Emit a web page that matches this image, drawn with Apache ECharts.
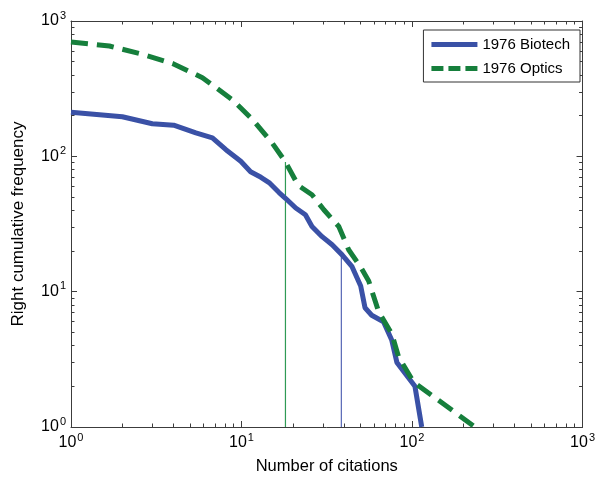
<!DOCTYPE html>
<html>
<head>
<meta charset="utf-8">
<script src="https://cdn.jsdelivr.net/npm/echarts@6/dist/echarts.min.js"></script>
<style>
html,body{margin:0;padding:0;background:#fff;}
#chart{width:598px;height:481px;}
</style>
</head>
<body>
<div id="chart"></div>
<script>
// Data (log-log)
const biotechX = [1, 2, 3, 4, 5.4, 6.75, 8.1, 9.9, 11.3, 13, 14.5, 16.6, 18.1, 20.8, 23.7, 25.9, 29.7, 34, 38.9, 44.5, 50, 53, 58, 68, 76, 81.5, 104, 114];
const biotechY = [212, 196, 174, 170, 149, 137, 112, 92, 77, 70, 64, 54, 49, 41.5, 37, 30.3, 25.5, 22.2, 18.7, 15.3, 11, 7.6, 6.7, 6.0, 4.4, 3.0, 2.0, 1];
const opticsX = [1, 1.68, 2.63, 3.94, 5.9, 8.8, 11.6, 15.1, 18.1, 21.5, 25.9, 30.4, 37.2, 42.5, 49.8, 55.7, 59.6, 63.7, 76, 83.4, 102, 234];
const opticsY = [699, 653, 567, 486, 381, 263, 187, 126, 91, 61, 52, 40.3, 30.3, 20.4, 15.3, 12, 9.2, 7.1, 4.9, 3.3, 2.15, 1];
// vertical marker lines (x position, top y)
const opticsMarkX = [18.1, 18.1];
const opticsMarkY = [1, 91];
const biotechMarkX = [38.5, 38.5];
const biotechMarkY = [1, 18.5];
const seriesNames = ['1976 Biotech', '1976 Optics'];
const xTitle = 'Number of citations';
const yTitle = 'Right cumulative frequency';
// minor tick values (2..9 in each decade)
const minorTicks = [2,3,4,5,6,7,8,9,20,30,40,50,60,70,80,90,200,300,400,500,600,700,800,900];

function zip(a, b) { return a.map((v, i) => [v, b[i]]); }

const FONT = 'Liberation Sans, Arial, Helvetica, sans-serif';
const AX = '#3c3c3c';

function powLabel(v) {
  const e = Math.round(Math.log10(v));
  return '{b|10}{s|' + e + '}';
}
const rich = {
  b: { fontSize: 16, color: '#000', fontFamily: FONT },
  s: { fontSize: 11, color: '#000', fontFamily: FONT, padding: [0, 0, 11, 1] }
};

function mkAxis(pos, isMain, isX, isMinor) {
  const a = {
    type: 'log', logBase: 10, min: 1, max: 1000, position: pos,
    name: isMain ? (isX ? xTitle : yTitle) : '',
    nameLocation: 'middle',
    nameGap: isX ? 31 : 44,
    nameTextStyle: { fontSize: isX ? 16.5 : 17, color: '#000', fontFamily: FONT },
    axisLine: { show: !isMinor, onZero: false, lineStyle: { color: AX, width: 1 } },
    axisTick: { show: true, inside: true, length: isMinor ? 3.5 : 6, lineStyle: { color: AX } },
    minorTick: { show: false },
    axisLabel: isMain ? { show: true, formatter: powLabel, rich: rich, margin: 5 } : { show: false },
    splitLine: { show: false },
    minorSplitLine: { show: false }
  };
  if (isMinor) a.axisTick.customValues = minorTicks;
  return a;
}

const solidIcon = 'path://M0,0L46,0L46,5L0,5Z';
const dashIcon = 'path://M0,0L12,0L12,5L0,5Z M17,0L29,0L29,5L17,5Z M34,0L46,0L46,5L34,5Z';

const chart = echarts.init(document.getElementById('chart'), null, { renderer: 'canvas' });
chart.setOption({
  backgroundColor: '#fff',
  animation: false,
  textStyle: { fontFamily: FONT },
  grid: { left: 71, right: 12, top: 21, bottom: 54, containLabel: false },
  xAxis: [mkAxis('bottom', true, true, false), mkAxis('top', false, true, false),
          mkAxis('bottom', false, true, true), mkAxis('top', false, true, true)],
  yAxis: [mkAxis('left', true, false, false), mkAxis('right', false, false, false),
          mkAxis('left', false, false, true), mkAxis('right', false, false, true)],
  legend: {
    data: [
      { name: seriesNames[0], icon: solidIcon },
      { name: seriesNames[1], icon: dashIcon }
    ],
    orient: 'vertical',
    right: 18, top: 30,
    backgroundColor: '#fff',
    borderColor: '#333', borderWidth: 1,
    padding: [7, 10, 6, 8],
    itemGap: 9,
    itemWidth: 46, itemHeight: 5,
    textStyle: { fontSize: 15, color: '#000', fontFamily: FONT }
  },
  series: [
    {
      name: 'optMark', type: 'line', data: zip(opticsMarkX, opticsMarkY), symbol: 'none',
      lineStyle: { color: '#2f9a55', width: 1.2 }, itemStyle: { color: '#2f9a55' }, z: 1, silent: true
    },
    {
      name: 'bioMark', type: 'line', data: zip(biotechMarkX, biotechMarkY), symbol: 'none',
      lineStyle: { color: '#5566b5', width: 1.2 }, itemStyle: { color: '#5566b5' }, z: 1, silent: true
    },
    {
      name: seriesNames[0], type: 'line', data: zip(biotechX, biotechY), symbol: 'none',
      lineStyle: { color: '#3a51a6', width: 5 }, itemStyle: { color: '#3a51a6' }, z: 3
    },
    {
      name: seriesNames[1], type: 'line', data: zip(opticsX, opticsY), symbol: 'none',
      lineStyle: { color: '#167f3c', width: 5, type: [17, 9] }, itemStyle: { color: '#167f3c' }, z: 4
    }
  ]
});
</script>
</body>
</html>
